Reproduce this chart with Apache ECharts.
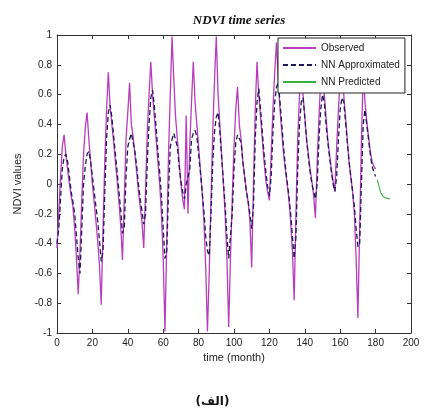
<!DOCTYPE html>
<html>
<head>
<meta charset="utf-8">
<script src="https://cdn.jsdelivr.net/npm/echarts@6/dist/echarts.min.js"></script>
<style>html,body{margin:0;padding:0;background:#fff;}#c{width:425px;height:412px;}</style>
</head>
<body>
<div id="c"></div>
<script>
// Observed NDVI, months 0..180
const observed = [
-0.43,-0.2,0.05,0.25,0.33,0.2,0.1,0.0,-0.08,-0.15,-0.3,-0.5,-0.74,
-0.45,-0.1,0.2,0.38,0.48,0.3,0.15,0.0,-0.12,-0.25,-0.38,-0.55,-0.81,
-0.3,0.15,0.5,0.75,0.52,0.4,0.28,0.15,0.02,-0.12,-0.28,-0.51,
-0.1,0.3,0.48,0.68,0.4,0.32,0.2,0.08,-0.05,-0.15,-0.25,-0.43,
-0.05,0.35,0.6,0.82,0.6,0.45,0.3,0.15,0.0,-0.2,-0.5,-0.99,
-0.4,0.2,0.6,0.99,0.7,0.45,0.3,0.15,0.0,-0.1,-0.17,0.46,-0.2,0.25,0.55,0.82,
0.55,0.4,0.25,0.1,-0.05,-0.25,-0.55,-0.99,
-0.6,-0.1,0.35,0.7,0.99,0.6,0.4,0.2,0.0,-0.2,-0.5,-0.96,
-0.5,-0.1,0.25,0.5,0.65,0.4,0.3,0.15,0.05,-0.05,-0.12,-0.25,-0.56,
0.0,0.5,0.82,0.6,0.45,0.3,0.15,0.02,-0.05,-0.11,
0.2,0.5,0.75,0.95,0.7,0.5,0.35,0.2,0.1,0.0,-0.1,-0.25,-0.45,-0.78,
-0.2,0.3,0.6,0.85,0.6,0.45,0.3,0.2,0.1,0.02,-0.08,-0.23,
0.15,0.45,0.7,0.9,0.6,0.45,0.3,0.2,0.1,0.02,-0.05,
0.25,0.5,0.7,0.85,0.6,0.45,0.3,0.15,0.05,-0.05,-0.2,-0.5,-0.9,
-0.3,0.3,0.75,0.55,0.42,0.32,0.22,0.15,0.12,0.1
];
// NN approximated, months 0..180
const approximated = [
-0.4,-0.3,-0.1,0.1,0.18,0.2,0.15,0.05,-0.05,-0.12,-0.2,-0.35,-0.5,
-0.6,-0.3,0.0,0.12,0.2,0.22,0.15,0.05,-0.05,-0.15,-0.25,-0.38,-0.52,
-0.45,-0.05,0.3,0.48,0.53,0.45,0.32,0.2,0.08,-0.05,-0.18,-0.33,
-0.3,0.05,0.25,0.3,0.34,0.33,0.22,0.12,0.0,-0.1,-0.18,-0.27,
-0.2,0.15,0.4,0.58,0.63,0.52,0.38,0.22,0.08,-0.08,-0.3,-0.5,
-0.45,-0.05,0.25,0.3,0.34,0.33,0.25,0.12,0.02,-0.05,-0.1,0.0,0.05,0.1,0.3,0.34,
0.36,0.32,0.2,0.08,-0.05,-0.18,-0.35,-0.45,
-0.48,-0.2,0.15,0.35,0.45,0.48,0.35,0.18,0.02,-0.15,-0.35,-0.5,
-0.5,-0.2,0.1,0.28,0.33,0.34,0.28,0.15,0.05,-0.05,-0.12,-0.2,-0.3,
-0.15,0.3,0.55,0.64,0.5,0.35,0.2,0.08,-0.02,-0.08,
0.05,0.35,0.55,0.65,0.68,0.55,0.4,0.25,0.12,0.02,-0.08,-0.2,-0.35,-0.5,
-0.35,0.1,0.4,0.55,0.58,0.45,0.3,0.18,0.08,0.0,-0.05,-0.1,
0.0,0.3,0.5,0.6,0.55,0.4,0.28,0.18,0.08,0.0,-0.05,
0.05,0.3,0.5,0.58,0.55,0.42,0.28,0.15,0.05,-0.05,-0.15,-0.3,-0.42,
-0.4,0.0,0.4,0.5,0.4,0.3,0.2,0.12,0.08,0.05
];
// NN predicted, months 181..188
const predictedStart = 181;
const predicted = [0.03,-0.02,-0.06,-0.08,-0.09,-0.095,-0.1,-0.1];

const xTicks = [0,20,40,60,80,100,120,140,160,180,200];
const yTicks = [-1,-0.8,-0.6,-0.4,-0.2,0,0.2,0.4,0.6,0.8,1];
const seriesNames = ['Observed','NN Approximated','NN Predicted'];

const toPairs = (arr, start) => arr.map((v,i)=>[start+i, v]);

const chart = echarts.init(document.getElementById('c'), null, {renderer:'canvas'});
const axisFont = {fontFamily:'Liberation Sans', fontSize:10, color:'#222'};
const fmtY = v => String(Math.round(v*10)/10);
const boxAxis = {
  axisLine:{show:true, onZero:false, lineStyle:{color:'#333'}},
  axisTick:{show:true, inside:true, length:4, lineStyle:{color:'#333'}},
  splitLine:{show:false}
};
chart.setOption({
  animation:false,
  backgroundColor:'#fff',
  title:{
    text:'NDVI time series', left:234, top:9, textAlign:'center',
    textStyle:{fontFamily:'Liberation Serif', fontStyle:'italic', fontWeight:'bold', fontSize:13, color:'#111'}
  },
  legend:{
    show:true,
    data:seriesNames, orient:'vertical', left:278, top:38,
    itemWidth:33, itemHeight:10, itemGap:7,
    padding:[5,5,6,4],
    backgroundColor:'#fff', borderColor:'#222', borderWidth:1,
    itemStyle:{opacity:0},
    textStyle:{fontFamily:'Liberation Sans', fontSize:10, color:'#222'},
    z:10
  },
  grid:{left:57, right:14, top:35, bottom:79},
  xAxis:[Object.assign({
    type:'value', min:0, max:200, interval:20,
    name:'time (month)', nameLocation:'middle', nameGap:17,
    nameTextStyle:{fontFamily:'Liberation Sans', fontSize:11, color:'#222'},
    axisLabel:Object.assign({margin:5}, axisFont)
  }, boxAxis), Object.assign({
    type:'value', min:0, max:200, interval:20, position:'top',
    axisLabel:{show:false}
  }, boxAxis)],
  yAxis:[Object.assign({
    type:'value', min:-1, max:1, interval:0.2,
    name:'NDVI values', nameLocation:'middle', nameGap:24,
    nameTextStyle:{fontFamily:'Liberation Sans', fontSize:11, color:'#222'},
    axisLabel:Object.assign({margin:5, formatter:fmtY}, axisFont)
  }, boxAxis), Object.assign({
    type:'value', min:-1, max:1, interval:0.2, position:'right',
    axisLabel:{show:false}
  }, boxAxis)],
  series:[
    {name:seriesNames[0], type:'line', data:toPairs(observed,0), symbol:'none',
     lineStyle:{color:'#b93cbc', width:1.3}, itemStyle:{color:'#b93cbc'}, color:'#b93cbc'},
    {name:seriesNames[1], type:'line', data:toPairs(approximated,0), symbol:'none',
     lineStyle:{color:'#1c1a55', width:1.3, type:[5,3]}, itemStyle:{color:'#1c1a55'}, color:'#1c1a55'},
    {name:seriesNames[2], type:'line', data:toPairs(predicted,predictedStart), symbol:'none',
     lineStyle:{color:'#3cb043', width:1.1}, itemStyle:{color:'#3cb043'}, color:'#3cb043'}
  ],
  graphic:[{
    type:'text', left:'center', top:396,
    style:{text:'(الف)', font:'bold 12px "DejaVu Sans"', fill:'#111'}
  }]
});
</script>
</body>
</html>
